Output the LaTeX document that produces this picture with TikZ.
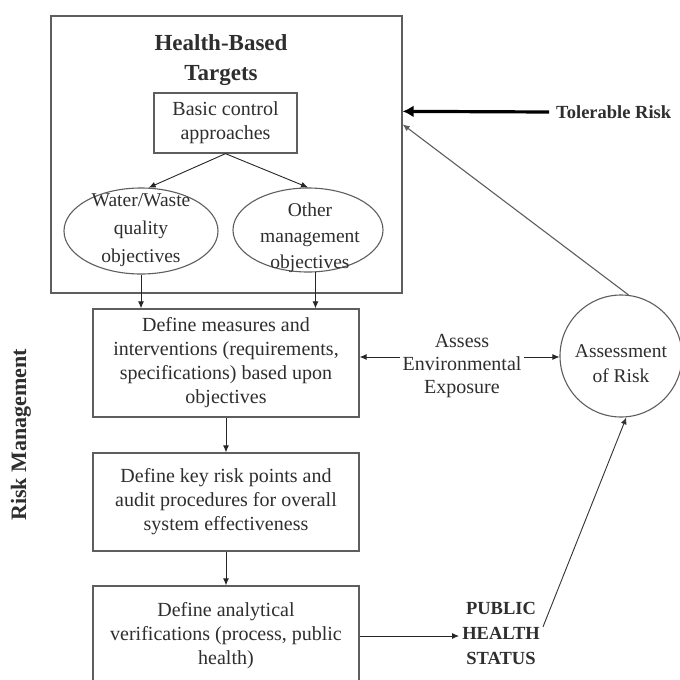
\documentclass[tikz,border=0pt]{standalone}
\usepackage{fontspec}
\setmainfont{Liberation Serif}
\usetikzlibrary{shapes.geometric,arrows.meta,calc}
\definecolor{linec}{HTML}{5E5E5E}
\definecolor{txtc}{HTML}{2E2E2E}
\tikzset{
  every node/.style={text=txtc},
  box/.style={draw=linec, line width=1.3pt, rectangle, inner sep=0pt, align=center,
              font=\fontsize{20}{24}\selectfont},
  ell/.style={draw=linec, line width=1.1pt, ellipse, inner sep=0pt},
  lbl/.style={align=center, font=\fontsize{19.5}{25}\selectfont, inner sep=2pt},
  hd/.style={align=center, inner sep=3pt},
  flow/.style={draw=black!85, line width=0.9pt, -{Latex[length=7pt,width=6pt]}},
}
\begin{document}
\begin{tikzpicture}[x=1pt,y=-1pt]
\clip (0,0) rectangle (680,680);
\fill[white] (0,0) rectangle (680,680);

% health-based targets frame
\node[box, minimum width=351, minimum height=277] (outer) at (226.5,154.5) {};
\node[hd, font=\bfseries\fontsize{23}{30}\selectfont] (title) at (221,60) {Health-Based\\Targets};
\node[box, minimum width=143, minimum height=60] (basic) at (225.5,123) {Basic control\\approaches};
\node[ell, minimum width=154, minimum height=86] (ellL) at (141,231) {};
\node[lbl, font=\fontsize{19.5}{28}\selectfont] (ellLt) at (141,230) {Water/Waste\\quality\\objectives};
\node[ell, minimum width=150, minimum height=84] (ellR) at (308,230) {};
\node[lbl, font=\fontsize{19.5}{26}\selectfont] (ellRt) at (310,238) {Other\\management\\objectives};

% risk management chain
\node[box, minimum width=266, minimum height=108] (meas) at (226,363)
  {Define measures and\\interventions (requirements,\\specifications) based upon\\objectives};
\node[box, minimum width=266, minimum height=98] (key) at (226,502)
  {Define key risk points and\\audit procedures for overall\\system effectiveness};
\node[box, minimum width=266, minimum height=100] (anal) at (226,636)
  {Define analytical\\verifications (process, public\\health)};

\node[hd, rotate=90, font=\bfseries\fontsize{22}{26}\selectfont] (rm) at (21,435) {Risk Management};

% risk assessment side
\node[lbl, font=\fontsize{20}{23}\selectfont] (assess) at (462,366) {Assess\\Environmental\\Exposure};
\node[draw=linec, line width=1.1pt, circle, minimum size=122, inner sep=0pt] (risk) at (621,356) {};
\node[lbl, font=\fontsize{19.5}{25}\selectfont] (riskt) at (621,364) {Assessment\\of Risk};
\node[hd, anchor=west, inner sep=7pt, font=\bfseries\fontsize{18.5}{22}\selectfont] (tol) at (549,112) {Tolerable Risk};
\node[hd, font=\bfseries\fontsize{18.5}{25}\selectfont, inner sep=3pt] (pub) at (501,633) {PUBLIC\\HEALTH\\STATUS};

% connectors
\coordinate (exposure) at (0,357);
\draw[flow] (basic.south) -- (ellL.80);
\draw[flow] (basic.south) -- (ellR.north);
\draw[flow] (ellL.south) -- (ellL.south |- meas.north);
\draw[flow] (ellR.-80) -- (ellR.-80 |- meas.north);
\draw[flow] (meas.south) -- (key.north);
\draw[flow] (key.south) -- (anal.north);
\draw[flow] (assess.west |- exposure) -- (meas.east |- exposure);
\draw[flow] (assess.east |- exposure) -- (risk.west |- exposure);
\draw[flow, draw=linec, line width=1.1pt] (risk.83) -- ($(outer.north east)+(0,109)$);
\draw[draw=black, line width=3.2pt, -{Latex[length=11pt,width=12pt]}] (tol.west) -- ($(outer.north east)+(0,96)$);
\draw[flow] (anal.east) -- (anal.east -| pub.west);
\draw[flow, draw=black!80] ($(pub.east)+(0,-6)$) -- (risk.-85);
\end{tikzpicture}
\end{document}
